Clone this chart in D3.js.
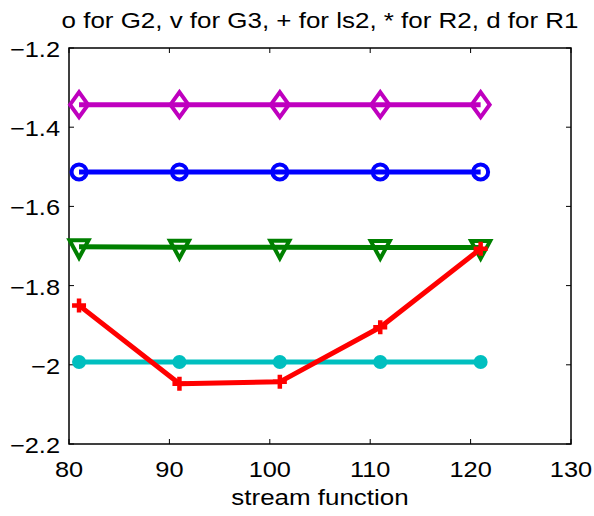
<!DOCTYPE html>
<html><head><meta charset="utf-8">
<script src="https://cdn.jsdelivr.net/npm/d3@7"></script>
<style>body{margin:0;background:#fff}svg{display:block}text{font-family:"Liberation Sans",Arial,sans-serif;fill:#000}</style>
</head><body>
<script>
const xValues = [81, 91, 101, 111, 121];
const seriesR1 = [-1.343, -1.343, -1.343, -1.343, -1.343];   // d
const seriesG2 = [-1.513, -1.513, -1.513, -1.513, -1.513];   // o
const seriesG3 = [-1.702, -1.703, -1.703, -1.704, -1.704];   // v
const seriesLs2 = [-1.850, -2.048, -2.043, -1.905, -1.707];  // +
const seriesR2 = [-1.993, -1.993, -1.993, -1.993, -1.993];   // *
const xTicks = [80, 90, 100, 110, 120, 130];
const yTicks = [-1.2, -1.4, -1.6, -1.8, -2, -2.2];
const titleText = "o for G2, v for G3, + for ls2, * for R2, d for R1";
const xLabelText = "stream function";

const W = 594, H = 516;
const L = 69, R = 571, T = 48, B = 444;
const SX = 1.18; // horizontal stretch of the text in the reference
const svg = d3.select("body").append("svg").attr("width", W).attr("height", H);
const x = d3.scaleLinear().domain([80, 130]).range([L, R]);
const y = d3.scaleLinear().domain([-2.2, -1.2]).range([B, T]);

function stext(px, py, anchor, size, str) {
  return svg.append("text")
    .attr("transform", `translate(${px},${py}) scale(${SX},1)`)
    .attr("text-anchor", anchor).attr("font-size", size).text(str);
}

// ticks (inward, mirrored)
const tl = 5;
const g = svg.append("g");
xTicks.forEach(t => {
  g.append("line").attr("x1", x(t)).attr("x2", x(t)).attr("y1", B).attr("y2", B - tl).attr("stroke", "#000");
  g.append("line").attr("x1", x(t)).attr("x2", x(t)).attr("y1", T).attr("y2", T + tl).attr("stroke", "#000");
  stext(x(t), B + 33, "middle", 21.5, t);
});
const fmtY = v => (v < 0 ? "\u2212" : "") + String(Math.abs(v));
yTicks.forEach(t => {
  g.append("line").attr("x1", L).attr("x2", L + tl).attr("y1", y(t)).attr("y2", y(t)).attr("stroke", "#000");
  g.append("line").attr("x1", R).attr("x2", R - tl).attr("y1", y(t)).attr("y2", y(t)).attr("stroke", "#000");
  stext(L - 9, y(t) + 9, "end", 21.5, fmtY(t));
});
svg.append("rect").attr("x", L).attr("y", T).attr("width", R - L).attr("height", B - T)
  .attr("fill", "none").attr("stroke", "#000").attr("stroke-width", 1.5);

stext((L + R) / 2, 28, "middle", 22, titleText);
stext((L + R) / 2, 505, "middle", 22, xLabelText);

const line = d3.line().x(d => x(d[0])).y(d => y(d[1]));
function drawSeries(vals, color, marker) {
  const pts = xValues.map((xv, i) => [xv, vals[i]]);
  svg.append("path").attr("d", line(pts)).attr("fill", "none").attr("stroke", color).attr("stroke-width", 5).attr("stroke-linejoin", "round");
  const mg = svg.append("g");
  pts.forEach(p => {
    const cx = x(p[0]), cy = y(p[1]);
    if (marker === "d") {
      mg.append("path").attr("d", `M${cx},${cy-12.5}L${cx+9},${cy}L${cx},${cy+12.5}L${cx-9},${cy}Z`)
        .attr("fill", "none").attr("stroke", color).attr("stroke-width", 4);
    } else if (marker === "o") {
      mg.append("circle").attr("cx", cx).attr("cy", cy).attr("r", 7.5).attr("fill", "none").attr("stroke", color).attr("stroke-width", 4);
    } else if (marker === "v") {
      mg.append("path").attr("d", `M${cx-9.5},${cy-6.5}L${cx+9.5},${cy-6.5}L${cx},${cy+11}Z`)
        .attr("fill", "none").attr("stroke", color).attr("stroke-width", 4).attr("stroke-linejoin", "miter");
    } else if (marker === "+") {
      mg.append("path").attr("d", `M${cx-7},${cy}L${cx+7},${cy}M${cx},${cy-7}L${cx},${cy+7}`)
        .attr("stroke", color).attr("stroke-width", 4.5);
    } else if (marker === "*") {
      mg.append("circle").attr("cx", cx).attr("cy", cy).attr("r", 7).attr("fill", color);
    }
  });
}
drawSeries(seriesR1, "#bf00bf", "d");
drawSeries(seriesG2, "#0000ff", "o");
drawSeries(seriesG3, "#008000", "v");
drawSeries(seriesR2, "#00bfbf", "*");
drawSeries(seriesLs2, "#ff0000", "+");
</script>
</body></html>
